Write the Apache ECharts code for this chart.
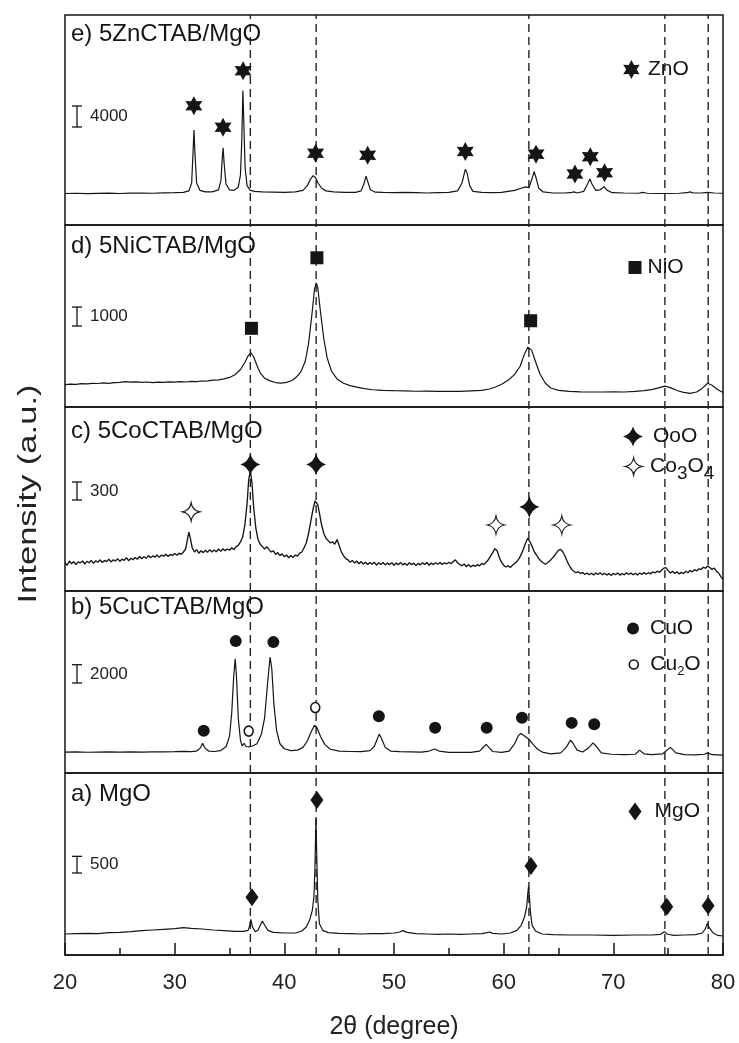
<!DOCTYPE html>
<html>
<head>
<meta charset="utf-8">
<script src="https://cdn.jsdelivr.net/npm/echarts@6.0.0/dist/echarts.min.js"></script>
<style>
  html, body { margin: 0; padding: 0; background: #fff; }
  #chart { width: 739px; height: 1043px; }
</style>
</head>
<body>
<div id="chart"></div>
<script>
// panels from top to bottom: e, d, c, b, a
const panelTitles = ['e) 5ZnCTAB/MgO', 'd) 5NiCTAB/MgO', 'c) 5CoCTAB/MgO', 'b) 5CuCTAB/MgO', 'a) MgO'];
const scaleBarValues = [4000, 1000, 300, 2000, 500];
const xTicks = [20, 30, 40, 50, 60, 70, 80];
const refLines = [36.9, 42.9, 62.3, 74.7, 78.65];

// e) 5ZnCTAB/MgO  [2theta, counts]
const znData = [[20,6000],[21,6050],[22,5980],[23,6020],[24,6060],[25,6000],[26,6080],[27,6100],[28,6050],[29,6120],[30,6150],[30.8,6200],[31.3,6500],[31.55,8000],[31.68,14000],[31.76,18100],[31.84,14000],[32.0,8000],[32.3,6600],[32.8,6300],[33.4,6300],[34.0,6700],[34.22,8500],[34.35,13000],[34.42,14700],[34.5,12000],[34.68,7800],[35.0,6700],[35.4,6600],[35.8,7200],[36.0,9500],[36.12,16000],[36.22,25600],[36.3,20000],[36.42,11000],[36.6,7500],[36.9,6600],[37.3,6400],[38,6300],[39,6250],[40,6200],[41,6300],[41.7,6600],[42.1,7500],[42.4,8800],[42.63,9400],[42.85,9000],[43.1,7900],[43.4,7000],[43.8,6500],[44.5,6300],[45.5,6200],[46.5,6200],[47.0,6500],[47.25,7800],[47.45,9300],[47.6,8300],[47.85,6700],[48.3,6250],[49,6200],[50,6150],[51,6200],[52,6150],[53,6100],[54,6150],[55,6200],[55.8,6500],[56.2,8000],[56.5,10600],[56.65,10000],[56.9,7500],[57.2,6400],[58,6200],[59,6150],[59.8,6200],[60.4,6400],[61.0,6600],[61.6,7000],[62.0,7250],[62.3,7100],[62.55,8600],[62.78,10150],[62.98,8800],[63.2,7000],[63.6,6300],[64.5,6100],[65.5,6100],[66.1,6150],[66.4,6300],[66.7,6100],[67.3,6400],[67.65,7800],[67.86,8760],[68.05,7800],[68.4,6600],[68.8,6700],[69.15,7300],[69.45,6600],[69.9,6150],[71,6100],[72.3,6050],[72.65,6200],[73.1,6050],[74,6000],[75,6000],[76,6050],[76.7,6150],[77.0,6300],[77.3,6100],[78,6100],[78.6,6200],[79.2,6100],[80,6050]];

// d) 5NiCTAB/MgO
const niData = [[20,1180],[20.5,1210],[21,1195],[21.5,1230],[22,1215],[22.5,1250],[23,1240],[23.5,1270],[24,1250],[24.5,1290],[25,1300],[25.5,1340],[26,1310],[26.5,1330],[27,1300],[27.5,1320],[28,1290],[28.5,1310],[29,1300],[29.5,1330],[30,1310],[30.5,1340],[31,1320],[31.5,1350],[32,1340],[32.5,1370],[33,1380],[33.5,1420],[34,1430],[34.5,1480],[35,1560],[35.5,1700],[36.0,1980],[36.4,2350],[36.7,2700],[36.95,2860],[37.2,2650],[37.5,2200],[37.8,1800],[38.2,1520],[38.7,1380],[39.2,1290],[39.7,1260],[40.2,1300],[40.7,1400],[41.1,1580],[41.5,1850],[41.9,2400],[42.2,3300],[42.5,4800],[42.75,6200],[42.9,6550],[43.05,6300],[43.3,5000],[43.6,3600],[43.9,2600],[44.3,1900],[44.8,1480],[45.4,1250],[46,1130],[46.6,1050],[47.2,980],[48,910],[49,880],[50,860],[51,850],[52,830],[53,840],[54,820],[55,830],[56,820],[57,850],[58,880],[58.7,950],[59.3,1070],[59.9,1230],[60.5,1450],[61.0,1720],[61.5,2150],[61.9,2800],[62.2,3150],[62.35,3215],[62.55,3000],[62.9,2400],[63.3,1750],[63.8,1250],[64.3,1000],[65,880],[66,820],[67,800],[68,790],[69,790],[70,800],[71,790],[72,820],[72.8,860],[73.5,920],[74.2,1020],[74.7,1100],[75.2,1020],[75.8,870],[76.4,770],[77,720],[77.6,790],[78.1,980],[78.6,1250],[79.0,1150],[79.5,920],[80,760]];

// c) 5CoCTAB/MgO (noisy trace)
const coData = [[20.0,470],[20.2,430],[20.4,500],[20.6,455],[20.8,490],[21.0,440],[21.2,485],[21.4,470],[21.6,500],[21.8,450],[22.0,495],[22.2,470],[22.4,510],[22.6,460],[22.8,505],[23.0,480],[23.2,520],[23.4,475],[23.6,510],[23.8,490],[24.0,530],[24.2,485],[24.4,520],[24.6,500],[24.8,540],[25.0,495],[25.2,530],[25.4,510],[25.6,555],[25.8,505],[26.0,545],[26.2,520],[26.4,560],[26.6,530],[26.8,575],[27.0,540],[27.2,570],[27.4,545],[27.6,590],[27.8,555],[28.0,585],[28.2,565],[28.4,600],[28.6,560],[28.8,600],[29.0,580],[29.2,615],[29.4,575],[29.6,610],[29.8,590],[30.0,625],[30.2,595],[30.4,630],[30.6,610],[30.8,650],[31.0,700],[31.15,850],[31.3,983],[31.45,860],[31.6,720],[31.8,650],[32.0,690],[32.2,630],[32.4,670],[32.6,640],[32.8,680],[33.0,645],[33.2,690],[33.4,650],[33.6,685],[33.8,655],[34.0,700],[34.2,660],[34.4,705],[34.6,670],[34.8,700],[35.0,680],[35.2,720],[35.4,690],[35.6,740],[35.8,760],[36.0,820],[36.2,900],[36.4,1100],[36.6,1450],[36.75,1850],[36.9,2010],[37.05,1800],[37.2,1400],[37.4,1050],[37.6,860],[37.8,780],[38.0,740],[38.2,700],[38.4,740],[38.6,690],[38.8,650],[39.0,670],[39.2,610],[39.4,640],[39.6,590],[39.8,620],[40.0,570],[40.2,600],[40.4,555],[40.6,590],[40.8,560],[41.0,600],[41.2,580],[41.4,630],[41.6,650],[41.8,720],[42.0,800],[42.2,950],[42.4,1150],[42.6,1350],[42.8,1500],[42.9,1520],[43.05,1440],[43.2,1300],[43.4,1100],[43.6,960],[43.8,880],[44.0,840],[44.2,800],[44.4,820],[44.6,780],[44.8,860],[45.0,760],[45.2,650],[45.4,590],[45.6,540],[45.8,520],[46.0,480],[46.2,510],[46.4,465],[46.6,500],[46.8,455],[47.0,490],[47.2,450],[47.4,480],[47.6,440],[47.8,475],[48.0,445],[48.2,480],[48.4,430],[48.6,470],[48.8,440],[49.0,475],[49.2,435],[49.4,465],[49.6,440],[49.8,470],[50.0,430],[50.2,465],[50.4,440],[50.6,475],[50.8,435],[51.0,460],[51.2,430],[51.4,470],[51.6,440],[51.8,465],[52.0,425],[52.2,460],[52.4,435],[52.6,470],[52.8,440],[53.0,475],[53.2,430],[53.4,465],[53.6,440],[53.8,470],[54.0,445],[54.2,475],[54.4,440],[54.6,470],[54.8,450],[55.0,480],[55.2,455],[55.4,490],[55.6,520],[55.8,470],[56.0,440],[56.2,420],[56.4,450],[56.6,405],[56.8,440],[57.0,400],[57.2,430],[57.4,410],[57.6,440],[57.8,420],[58.0,460],[58.2,440],[58.4,480],[58.6,520],[58.8,580],[59.0,640],[59.2,705],[59.4,670],[59.6,560],[59.8,480],[60.0,430],[60.2,400],[60.4,420],[60.6,390],[60.8,430],[61.0,460],[61.2,490],[61.4,540],[61.6,610],[61.8,700],[62.0,800],[62.2,878],[62.4,820],[62.6,740],[62.8,650],[63.0,600],[63.2,540],[63.4,500],[63.6,470],[63.8,445],[64.0,470],[64.2,500],[64.4,540],[64.6,580],[64.8,630],[65.0,680],[65.2,695],[65.4,650],[65.6,580],[65.8,490],[66.0,420],[66.2,360],[66.4,330],[66.6,305],[66.8,320],[67.0,290],[67.2,310],[67.4,275],[67.6,300],[67.8,270],[68.0,295],[68.2,265],[68.4,300],[68.6,275],[68.8,305],[69.0,270],[69.2,295],[69.4,265],[69.6,290],[69.8,260],[70.0,295],[70.2,270],[70.4,300],[70.6,265],[70.8,290],[71.0,270],[71.2,305],[71.4,275],[71.6,300],[71.8,270],[72.0,295],[72.2,265],[72.4,300],[72.6,275],[72.8,310],[73.0,280],[73.2,305],[73.4,285],[73.6,320],[73.8,300],[74.0,330],[74.2,310],[74.4,350],[74.6,380],[74.8,390],[75.0,340],[75.2,300],[75.4,330],[75.6,290],[75.8,320],[76.0,285],[76.2,310],[76.4,290],[76.6,330],[76.8,305],[77.0,340],[77.2,320],[77.4,355],[77.6,335],[77.8,370],[78.0,360],[78.2,395],[78.4,380],[78.6,417],[78.8,390],[79.0,360],[79.2,380],[79.4,330],[79.6,300],[79.8,240],[80.0,195]];

// b) 5CuCTAB/MgO
const cuData = [[20,2280],[21,2300],[22,2270],[23,2290],[24,2300],[25,2280],[26,2310],[27,2290],[28,2320],[29,2300],[30,2330],[30.8,2360],[31.5,2340],[32.0,2400],[32.35,2750],[32.55,3240],[32.75,2750],[33.1,2400],[33.6,2350],[34.2,2450],[34.7,2900],[35.0,4000],[35.2,6500],[35.38,10500],[35.52,12500],[35.64,10500],[35.8,6000],[36.0,3600],[36.15,2950],[36.33,3250],[36.5,2900],[36.8,2850],[37.1,2950],[37.5,3200],[37.9,4200],[38.2,6000],[38.45,9500],[38.7,12680],[38.85,11500],[39.05,7500],[39.3,4600],[39.6,3200],[40.0,2650],[40.6,2450],[41.2,2500],[41.7,2800],[42.1,3500],[42.45,4500],[42.75,5230],[43.0,4900],[43.3,4000],[43.7,3100],[44.2,2600],[45,2400],[46,2350],[47,2330],[47.8,2450],[48.2,2900],[48.5,3800],[48.65,4250],[48.85,3800],[49.2,2800],[49.7,2400],[50.5,2330],[51.5,2310],[52.5,2280],[53.2,2400],[53.7,2620],[54.1,2400],[55,2260],[56,2250],[57,2250],[57.8,2400],[58.2,2900],[58.4,3130],[58.65,2800],[59.0,2350],[59.8,2250],[60.5,2400],[61.0,3200],[61.35,4100],[61.58,4330],[61.9,4050],[62.3,3700],[62.7,3100],[63.1,2600],[63.6,2250],[64.3,2100],[65.2,2200],[65.7,2800],[66.1,3600],[66.35,3200],[66.7,2500],[67.2,2300],[67.7,2700],[68.15,3300],[68.45,2900],[68.9,2200],[69.8,2050],[71,2000],[72,2050],[72.4,2500],[72.8,2100],[73.5,2000],[74.5,2100],[75.2,2800],[75.7,2200],[76.5,2000],[77.5,1980],[78.3,2050],[78.6,2200],[79.0,2000],[80,1960]];

// a) MgO
const mgData = [[20,630],[21,640],[22,650],[23,640],[24,670],[25,680],[26,700],[27,730],[28,750],[29,770],[30,790],[30.8,820],[31.5,800],[32.5,780],[33.5,750],[34.5,730],[35.5,710],[36.3,710],[36.7,740],[36.85,890],[36.95,1070],[37.1,840],[37.35,700],[37.6,740],[37.85,920],[38.0,1020],[38.2,900],[38.5,740],[39,680],[40,660],[41,660],[41.6,720],[42.0,840],[42.3,1040],[42.55,1340],[42.7,1740],[42.8,2740],[42.88,4090],[42.96,2940],[43.05,1640],[43.2,940],[43.5,740],[44,670],[45,650],[46,640],[47,630],[48,640],[49,640],[50,660],[50.5,690],[50.8,730],[51.2,680],[52,640],[53,630],[54,620],[55,630],[56,620],[57,630],[58,640],[58.5,670],[58.7,690],[59.0,650],[59.8,630],[60.6,660],[61.2,740],[61.6,890],[61.9,1140],[62.1,1440],[62.2,1840],[62.27,2050],[62.35,1740],[62.45,1240],[62.6,890],[62.9,720],[63.5,630],[64.5,610],[66,600],[68,600],[70,590],[72,600],[73.5,600],[74.3,620],[74.65,700],[74.9,630],[75.5,590],[76.5,600],[77.5,610],[78.1,660],[78.4,790],[78.57,950],[78.75,820],[79.1,660],[79.5,590],[80,570]];

// phase markers [2theta, counts]
const znoMarks = [[31.75,22700],[34.41,18600],[36.24,29400],[42.85,13650],[47.6,13300],[56.5,14000],[62.95,13500],[66.5,9700],[67.9,13000],[69.2,9960]];
const nioMarks = [[37.0,4150],[42.97,7870],[62.46,4550]];
const cooMarks = [[36.9,2110],[42.9,2110],[62.34,1400]];
const co3o4Marks = [[31.5,1320],[59.3,1100],[65.3,1100]];
const cuoMarks = [[32.65,4610],[35.57,14420],[39.0,14310],[48.62,6210],[53.75,4940],[58.45,4940],[61.67,6030],[66.2,5480],[68.26,5340]];
const cu2oMarks = [[36.75,4580],[42.82,7160]];
const mgoMarks = [[37.05,1730],[42.97,4650],[62.49,2670],[74.87,1450],[78.64,1480]];

// layout
const FONT = '"Liberation Sans", Arial, sans-serif';
const INK = '#151515';
const plotLeft = 65, plotRight = 16;
const panelTop = [15, 225, 407, 591, 773];
const panelHeight = [210, 182, 184, 182, 182];
const yMax = [40000, 9600, 3067, 19900, 5460];
const lineWidths = [1.2, 1.2, 1.35, 1.2, 1.2];
const titleCenter = [35, 247, 432, 608, 795];
const barBottom = [127, 326, 500, 683, 873];
const barX = 77;

const STAR6 = 'path://M0,-10L2.75,-4.76L8.66,-5L5.5,0L8.66,5L2.75,4.76L0,10L-2.75,4.76L-8.66,5L-5.5,0L-8.66,-5L-2.75,-4.76Z';
const STAR4 = 'path://M0,-10Q2.2,-2.2 10,0Q2.2,2.2 0,10Q-2.2,2.2 -10,0Q-2.2,-2.2 0,-10Z';
const STAR4O = 'path://M0,-10Q1.6,-1.6 10,0Q1.6,1.6 0,10Q-1.6,1.6 -10,0Q-1.6,-1.6 0,-10Z';

const curves = [znData, niData, coData, cuData, mgData];

const grids = panelTop.map((t, i) => ({
  left: plotLeft, right: plotRight, top: t, height: panelHeight[i],
  show: true, borderColor: INK, borderWidth: 1.5, backgroundColor: 'transparent'
}));
grids.push({ left: plotLeft, right: plotRight, top: 15, bottom: 1043 - 955, show: false });

const xAxes = grids.map((g, i) => {
  const ax = { type: 'value', gridIndex: i, min: 20, max: 80, interval: 10, show: i === 4,
    splitLine: { show: false } };
  if (i === 4) {
    Object.assign(ax, {
      axisLine: { show: true, lineStyle: { color: INK, width: 1.5 } },
      axisTick: { show: true, inside: true, length: 12, lineStyle: { color: INK, width: 1.5 } },
      minorTick: { show: true, splitNumber: 2, length: 7, lineStyle: { color: INK, width: 1.5 } },
      minorSplitLine: { show: false },
      axisLabel: { fontSize: 22, color: '#222', margin: 17, fontFamily: FONT,
        customValues: xTicks },
      name: '2θ (degree)', nameLocation: 'middle', nameGap: 60,
      nameTextStyle: { fontSize: 25, color: '#222', fontFamily: FONT }
    });
  }
  return ax;
});

const yAxes = grids.map((g, i) => ({
  type: 'value', gridIndex: i, min: 0, max: i < 5 ? yMax[i] : 1, show: false
}));

const series = [];
curves.forEach((d, i) => {
  series.push({
    type: 'line', xAxisIndex: i, yAxisIndex: i, data: d, symbol: 'none', silent: true,
    lineStyle: { color: INK, width: lineWidths[i] }, z: 3
  });
  series.push({
    type: 'custom', xAxisIndex: i, yAxisIndex: i, silent: true, z: 4,
    data: [[21, scaleBarValues[i]]],
    renderItem: (params, api) => {
      const len = api.size([0, api.value(1)])[1];
      const y1 = barBottom[i], y0 = y1 - len;
      const st = { stroke: INK, lineWidth: 1.3 };
      return { type: 'group', children: [
        { type: 'line', shape: { x1: barX, y1: y0, x2: barX, y2: y1 }, style: st },
        { type: 'line', shape: { x1: barX - 5, y1: y0, x2: barX + 5, y2: y0 }, style: st },
        { type: 'line', shape: { x1: barX - 5, y1: y1, x2: barX + 5, y2: y1 }, style: st },
        { type: 'text', style: { text: String(api.value(1)), x: barX + 13, y: (y0 + y1) / 2,
          align: 'left', verticalAlign: 'middle', fontSize: 17, fontFamily: FONT, fill: '#222' } }
      ] };
    }
  });
});

function marks(name, panel, data, symbol, size, style) {
  series.push({
    type: 'scatter', name, xAxisIndex: panel, yAxisIndex: panel, data, symbol,
    symbolSize: size, silent: true, z: 5,
    itemStyle: Object.assign({ color: INK, opacity: 1 }, style || {})
  });
}
marks('ZnO', 0, znoMarks, STAR6, [17, 19]);
marks('NiO', 1, nioMarks, 'rect', [13, 13]);
marks('OoO', 2, cooMarks, STAR4, [20, 22]);
marks('Co3O4', 2, co3o4Marks, STAR4O, [17, 18], { color: '#fff', borderColor: INK, borderWidth: 1.2 });
marks('CuO', 3, cuoMarks, 'circle', 12);
marks('Cu2O', 3, cu2oMarks, 'circle', [9, 10], { color: '#fff', borderColor: INK, borderWidth: 1.6 });
marks('MgO', 4, mgoMarks, 'diamond', [13, 18]);

refLines.forEach(x => {
  series.push({
    type: 'line', xAxisIndex: 5, yAxisIndex: 5, data: [[x, 0], [x, 1]], symbol: 'none', silent: true,
    lineStyle: { color: '#222', width: 1.4, type: [8, 5] }, z: 2
  });
});

const rich = {
  m: { fontSize: 21, fontFamily: FONT, color: INK },
  s: { fontSize: 19, fontFamily: FONT, color: INK, padding: [15, 0, 0, 0] },
  t: { fontSize: 13, fontFamily: FONT, color: INK, padding: [13, 0, 0, 0] }
};
function legendItem(name, icon, cx, cy, w, h, textPad, rowH, style) {
  return {
    data: [{ name, icon }], orient: 'horizontal', selectedMode: false,
    left: cx - w / 2, top: cy - rowH / 2, padding: 0, itemWidth: w, itemHeight: h,
    itemStyle: style || {},
    textStyle: { fontSize: 21, fontFamily: FONT, color: INK, padding: [0, 0, 0, textPad], rich },
    formatter: n => n === 'Co3O4' ? '{m|Co}{s|3}{m|O}{s|4}' : n === 'Cu2O' ? '{m|Cu}{t|2}{m|O}' : n
  };
}

const option = {
  animation: false,
  backgroundColor: '#fff',
  grid: grids,
  xAxis: xAxes,
  yAxis: yAxes,
  title: panelTitles.map((t, i) => ({
    text: t, left: 71, top: titleCenter[i] - 13, padding: 0,
    textStyle: { fontSize: 24, fontWeight: 'normal', color: INK, fontFamily: FONT }
  })),
  legend: [
    legendItem('ZnO', STAR6, 631.7, 71, 17, 19, 3, 24),
    legendItem('NiO', 'rect', 635, 269, 13, 13, 1, 24),
    legendItem('OoO', STAR4, 633, 438, 20, 22, 5, 24),
    legendItem('Co3O4', STAR4O, 633, 473, 17, 18, 3, 34, { color: '#fff', borderColor: INK, borderWidth: 1.2 }),
    legendItem('CuO', 'circle', 633, 630, 12, 12, 6, 24),
    legendItem('Cu2O', 'circle', 633, 667, 9, 10, 7, 26, { color: '#fff', borderColor: INK, borderWidth: 1.6 }),
    legendItem('MgO', 'diamond', 635, 813, 13, 18, 8, 24)
  ],
  graphic: [{
    type: 'text', x: 29, y: 494, rotation: Math.PI / 2, scaleX: 1.33,
    style: { text: 'Intensity (a.u.)', fontSize: 26, fontFamily: FONT, fill: '#222',
      align: 'center', verticalAlign: 'middle' }
  }],
  series
};

const chart = echarts.init(document.getElementById('chart'));
chart.setOption(option);
</script>
</body>
</html>
